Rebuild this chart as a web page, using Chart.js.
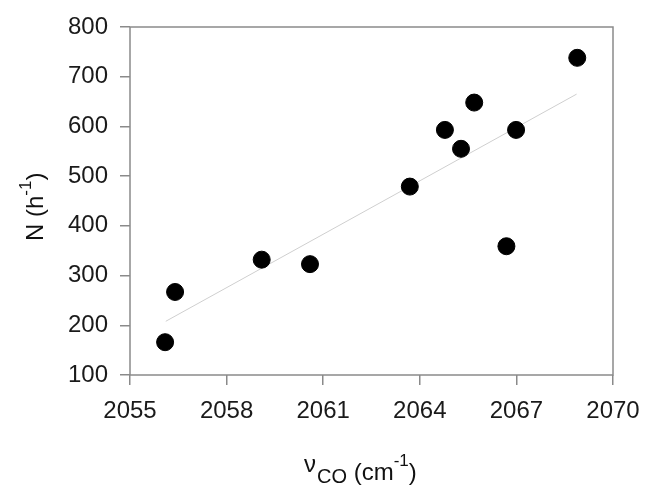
<!DOCTYPE html>
<html>
<head>
<meta charset="utf-8">
<script src="https://cdn.jsdelivr.net/npm/chart.js@4/dist/chart.umd.min.js"></script>
<style>
html,body{margin:0;padding:0;background:#fff;}
#wrap{width:649px;height:495px;position:relative;}
</style>
</head>
<body>
<div id="wrap"><canvas id="c" width="649" height="495"></canvas></div>
<script>
// Data
const nuCO = [2056.09, 2056.40, 2059.09, 2060.59, 2063.69, 2064.78, 2065.28, 2065.69, 2066.69, 2066.99, 2068.89];
const rateN = [166, 267, 332, 323, 479, 593, 555, 648, 359, 593, 738];
const fitX = [2056.11, 2068.87];
const fitY = [208, 665];
const xTicks = [2055, 2058, 2061, 2064, 2067, 2070];
const yTicks = [100, 200, 300, 400, 500, 600, 700, 800];

const FONT = '"Liberation Sans", Arial, sans-serif';
const AXIS = '#8a8a8a';

const framePlugin = {
  id: 'frame',
  afterDraw(chart) {
    const {ctx, chartArea: a} = chart;
    ctx.save();
    ctx.strokeStyle = AXIS;
    ctx.lineWidth = 1.5;
    ctx.strokeRect(a.left, a.top, a.right - a.left, a.bottom - a.top);
    ctx.fillStyle = '#111';
    ctx.textBaseline = 'alphabetic';
    // X title: ν_CO (cm^-1)
    let x = 304;
    ctx.font = '24px ' + FONT;
    ctx.fillText('\u03bd', x, 472); x += ctx.measureText('\u03bd').width + 1;
    ctx.font = '20px ' + FONT;
    ctx.fillText('CO', x, 483); x += ctx.measureText('CO').width;
    ctx.font = '24px ' + FONT;
    ctx.fillText(' (cm', x, 480); x += ctx.measureText(' (cm').width;
    ctx.font = '17px ' + FONT;
    ctx.fillText('-1', x, 466); x += ctx.measureText('-1').width;
    ctx.font = '24px ' + FONT;
    ctx.fillText(')', x, 480);
    // Y title: N (h^-1)
    ctx.translate(43, 241);
    ctx.rotate(-Math.PI / 2);
    let y = 0;
    ctx.font = '24px ' + FONT;
    ctx.fillText('N (h', y, 0); y += ctx.measureText('N (h').width;
    ctx.font = '17px ' + FONT;
    ctx.fillText('-1', y, -12); y += ctx.measureText('-1').width;
    ctx.font = '24px ' + FONT;
    ctx.fillText(')', y, 0);
    ctx.restore();
  }
};

new Chart(document.getElementById('c'), {
  type: 'scatter',
  data: {
    datasets: [
      {
        data: nuCO.map((v, i) => ({x: v, y: rateN[i]})),
        backgroundColor: '#000',
        borderColor: '#000',
        pointRadius: 8.5,
        pointHoverRadius: 8.5
      },
      {
        type: 'line',
        data: fitX.map((v, i) => ({x: v, y: fitY[i]})),
        borderColor: '#cfcfcf',
        borderWidth: 1,
        pointRadius: 0,
        fill: false
      }
    ]
  },
  options: {
    responsive: false,
    animation: false,
    events: [],
    layout: {padding: {top: 27, right: 36, left: 0, bottom: 0}},
    plugins: {legend: {display: false}, tooltip: {enabled: false}},
    scales: {
      x: {
        type: 'linear',
        min: 2055, max: 2070,
        afterBuildTicks(s) { s.ticks = xTicks.map(v => ({value: v})); },
        afterFit(s) { s.height = 120; s.paddingLeft = 0; s.paddingRight = 0; },
        grid: {drawOnChartArea: false, drawTicks: true, tickLength: 10, color: AXIS, lineWidth: 1.5},
        border: {display: false},
        ticks: {padding: 12, color: '#1a1a1a', font: {family: FONT, size: 24}, maxRotation: 0,
                callback: v => String(v)}
      },
      y: {
        type: 'linear',
        min: 100, max: 800,
        afterBuildTicks(s) { s.ticks = yTicks.map(v => ({value: v})); },
        afterFit(s) { s.width = 130; s.paddingTop = 0; s.paddingBottom = 0; },
        grid: {drawOnChartArea: false, drawTicks: true, tickLength: 10, color: AXIS, lineWidth: 1.5},
        border: {display: false},
        ticks: {padding: 12, color: '#1a1a1a', font: {family: FONT, size: 24}, callback: v => String(v)}
      }
    }
  },
  plugins: [framePlugin]
});
</script>
</body>
</html>
